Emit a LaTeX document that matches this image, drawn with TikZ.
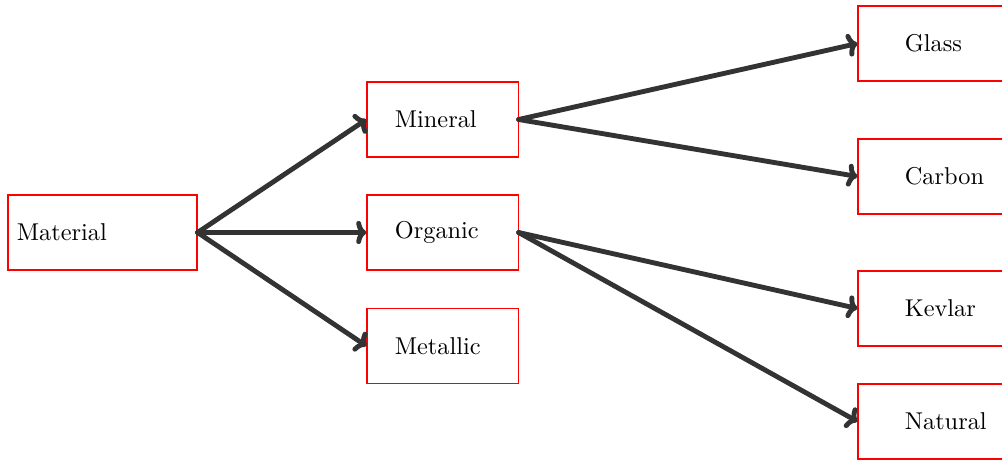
\documentclass[tikz,border=0pt]{standalone}
\usetikzlibrary{arrows.meta}
\definecolor{edgegray}{HTML}{333333}
\definecolor{boxred}{HTML}{FF0000}
\begin{document}
\begin{tikzpicture}[x=0.411pt, y=-0.411pt,
  box/.style={rectangle, draw=boxred, line width=0.45pt, minimum height=30.8pt, inner sep=0pt},
  rootbox/.style={box, minimum width=77.7pt},
  midbox/.style={box, minimum width=62.1pt},
  leafbox/.style={box, minimum width=62.1pt},
  lbl/.style={anchor=west, inner sep=0pt, font=\normalsize},
  link/.style={draw=edgegray, line width=2pt, -{To[length=4.2pt, width=9.5pt, line cap=round]}, line cap=round}]
  \path[use as bounding box] (0,0) rectangle (1002,461);
  \begin{scope}
  \clip (0,0) rectangle (1002,461);

  % boxes
  \node[rootbox] (material) at (102.5,232.5) {};
  \node[midbox] (mineral)  at (442.5,119.5) {};
  \node[midbox] (organic)  at (442.5,232.5) {};
  \node[midbox] (metallic) at (442.5,346) {};
  \node[leafbox] (glass)   at (933.5,43.5) {};
  \node[leafbox] (carbon)  at (933.5,176.5) {};
  \node[leafbox] (kevlar)  at (933.5,308.5) {};
  \node[leafbox] (natural) at (933.5,421.5) {};

  % labels
  \node[lbl] at ([xshift=3.7pt]material.west) {Material};
  \node[lbl] at ([xshift=11.5pt]mineral.west) {Mineral};
  \node[lbl] at ([xshift=11.5pt]organic.west) {Organic};
  \node[lbl] at ([xshift=11.5pt]metallic.west) {Metallic};
  \node[lbl] at ([xshift=19.3pt]glass.west) {Glass};
  \node[lbl] at ([xshift=19.3pt]carbon.west) {Carbon};
  \node[lbl] at ([xshift=19.3pt]kevlar.west) {Kevlar};
  \node[lbl] at ([xshift=19.3pt]natural.west) {Natural};

  % connectors
  \draw[link] (material.east) -- (mineral.west);
  \draw[link] (material.east) -- (organic.west);
  \draw[link] (material.east) -- (metallic.west);
  \draw[link] (mineral.east) -- (glass.west);
  \draw[link] (mineral.east) -- (carbon.west);
  \draw[link] (organic.east) -- (kevlar.west);
  \draw[link] (organic.east) -- (natural.west);
  \end{scope}
\end{tikzpicture}
\end{document}
